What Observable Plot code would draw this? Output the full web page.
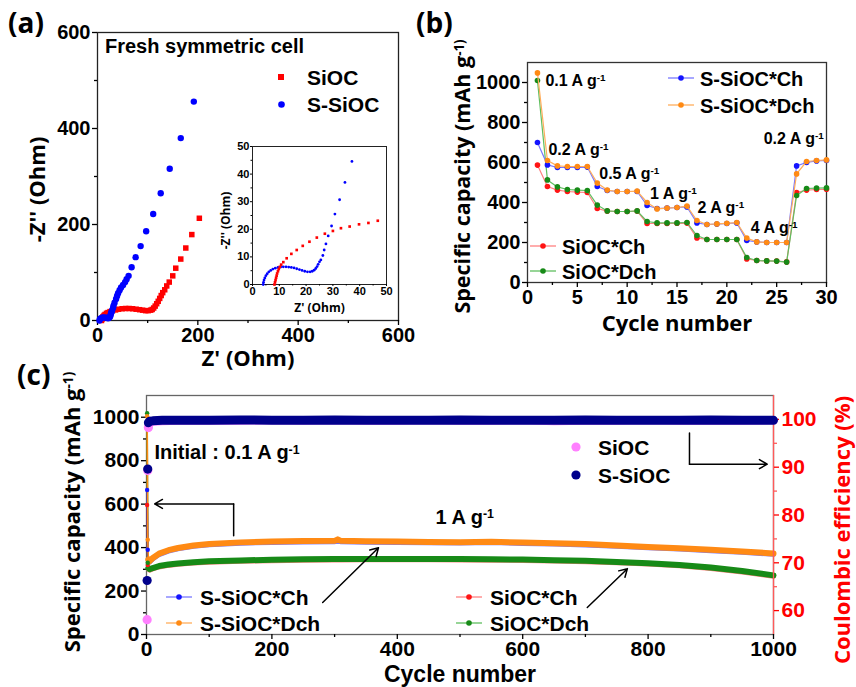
<!DOCTYPE html>
<html><head><meta charset="utf-8">
<script src="https://cdn.jsdelivr.net/npm/d3@7"></script>
<script src="https://cdn.jsdelivr.net/npm/@observablehq/plot@0.6"></script>
<style>
body{margin:0;background:#fff}
#wrap{position:relative;width:856px;height:687px;overflow:hidden;background:#fff}
#wrap svg.plotlayer{position:absolute;left:0;top:0}
.lbl{position:absolute;white-space:nowrap;line-height:1;transform:translateY(-50%)}
</style></head>
<body><div id="wrap"></div>
<script>
// ---------------- DATA ----------------
// (a) Nyquist plots, fresh symmetric cell [Z', -Z'']
const nyqSiOC = [[8,0],[9,3],[10,6],[11,8],[13,10.5],[15,12.5],[18,15],[21,16.5],[25,18.5],[30,20.5],[36,22],[42,23.5],[49,24.5],[56,25],[63,25],[70,24.5],[77,23.5],[84,22.5],[90,21.5],[96,20.5],[101,20.5],[106,21.5],[109,23],[112,26],[115,30],[118,35],[121,40],[124,46],[127,52],[130,58],[134,64],[138,72],[143,80],[150,93],[156,109],[166,128],[176,151],[188,179],[203,213]];
const nyqSSiOC = [[4,0],[5,3],[7,5],[10,6.2],[14,6.3],[18,5.6],[21,4.6],[23,5.5],[25,8],[26,11],[27,15],[28,18],[29,21],[31,26],[32,31],[34,37],[37,45],[39,51],[41,57],[44,63],[47,69],[51,74],[55,80],[58,86],[62,93],[68,111],[76,132],[86,155],[97,186],[111,222],[126,265],[144,316],[166,380],[192,456]];
// (a) inset (zoom on 0-50 Ohm)
const insetSiOC = [[8.2,0],[8.4,0.8],[8.6,1.6],[8.8,2.4],[9,3.2],[9.2,4],[9.5,4.8],[9.8,5.6],[10.2,6.4],[10.7,7.2],[11.5,8.1],[12.75,9.5],[14.5,11.1],[16.5,12.5],[18.75,14],[21.25,15.5],[24,17],[27,18.4],[30,19.4],[33,20.4],[36.25,21],[39.75,21.8],[43.25,22.3],[46.75,23.1]];
const insetSSiOC = [[4,0],[4.1,0.8],[4.3,1.6],[4.6,2.4],[5,3.2],[5.5,3.9],[6.1,4.6],[6.8,5.1],[7.6,5.6],[8.5,5.9],[9.5,6.2],[10.5,6.3],[11.5,6.4],[12.5,6.4],[13.5,6.3],[14.5,6.2],[15.5,6],[16.5,5.7],[17.5,5.4],[18.5,5.1],[19.5,4.8],[20.5,4.6],[21.5,4.6],[22.3,4.8],[23,5.2],[23.6,5.8],[24.1,6.5],[24.5,7.3],[25,8.2],[25.5,8.9],[26.25,10.5],[26.75,12.5],[27.4,14.7],[28.25,17.6],[29.5,21.2],[30.75,25.5],[32.5,30.7],[34.5,37],[37.1,44.6]];

// (b) rate capability
const cyclesB = [1,2,3,4,5,6,7,8,9,10,11,12,13,14,15,16,17,18,19,20,21,22,23,24,25,26,27,28,29,30];
const bSSiOCCh  = [700,588,575,575,575,577,480,460,455,455,455,385,370,372,375,378,298,290,292,295,298,210,203,200,200,200,583,600,608,610];
const bSSiOCDch = [1048,610,583,580,580,580,497,462,455,455,457,400,368,372,375,382,310,290,293,296,300,222,203,200,200,200,543,605,610,613];
const bSiOCCh   = [587,480,462,455,452,450,370,357,355,355,357,295,295,295,296,297,223,215,215,215,215,118,110,108,107,103,450,462,465,466];
const bSiOCDch  = [1010,513,478,465,462,460,387,358,355,355,358,305,298,298,298,300,235,215,215,215,215,125,110,108,107,102,435,470,472,473];
const rateLabels = ["0.1 A g^-1","0.2 A g^-1","0.5 A g^-1","1 A g^-1","2 A g^-1","4 A g^-1","0.2 A g^-1"];
const rateLabelCycle = [1.8,2.1,7.2,12.3,17.05,22.4,23.7];
const rateLabelCap = [1010,665,545,445,375,275,720];

// (c) long-term cycling at 1 A g-1
const cyclesC = [1,2,3,5,10,20,35,50,75,100,150,200,250,300,305,310,350,400,450,500,550,600,650,700,750,800,850,900,950,1000];
const cSSiOCDch = [1005,436,345,338,352,372,388,398,410,417,424,428,430,431,438,431,429,428,426,425,427,423,420,416,410,403,397,390,382,373];
const cSSiOCCh  = [665,390,340,334,348,368,384,394,406,413,420,424,426,427,433,427,425,424,422,421,423,419,416,412,406,399,393,386,378,369];
const cSiOCDch  = [1018,330,305,300,306,315,322,327,333,337,341,344,346,347,347,347,348,348,348,347,346,345,342,339,334,328,320,308,292,272];
const cSiOCCh   = [596,320,300,296,302,311,318,323,329,333,337,340,342,343,343,343,344,344,344,343,342,341,338,335,330,324,316,304,288,268];
const ceCycles = [1,2,3,5,10,25,50,100,150,200,250,300,350,400,450,500,550,600,650,700,750,800,850,900,950,1000];
const ceSSiOC = [66.3,89.6,99.3,99.6,99.7,99.8,99.8,99.8,99.9,99.8,99.8,99.9,99.8,99.8,99.8,99.9,99.8,99.8,99.8,99.9,99.8,99.8,99.8,99.9,99.8,99.8];
const ceSiOC  = [58.1,89.3,98.3,99.2,99.5,99.6,99.7,99.7,99.7,99.8,99.7,99.8,99.7,99.7,99.8,99.7,99.7,99.8,99.6,99.7,99.7,99.8,99.7,99.7,99.7,99.8];
const cNotes = ["Initial : 0.1 A g^-1","1 A g^-1"];
const cNoteCycle = [12.8,461];
const cNoteCap = [835,537];
// arrows (cycle, capacity)
const arrowStraight = [{x1:281,y1:147,x2:370,y2:399},{x1:703,y1:124,x2:767,y2:303}];
const elbowLeft = [[139,454],[139,601],[13,601]];
const elbowRight = [[866,927],[866,784],[990,784]];

// tick values
const aTicks=[0,200,400,600], aMinor=[100,300,500];
const inTicks=[0,10,20,30,40,50], inMinor=[5,15,25,35,45];
const bxTicks=[0,5,10,15,20,25,30], bxMinor=[2.5,7.5,12.5,17.5,22.5,27.5];
const capTicks=[0,200,400,600,800,1000], capMinor=[100,300,500,700,900];
const cxTicks=[0,200,400,600,800,1000], cxMinor=[100,300,500,700,900];
const ceTicks=[60,70,80,90,100], ceMinor=[65,75,85,95];

// ---------------- HELPERS ----------------
const W=856, H=687;
const FONT='"Liberation Sans", Arial, sans-serif';
const TFONT='"Open Sans", "Liberation Sans", sans-serif';
const wrap=document.getElementById("wrap");
const pts = arr => arr.map(([x,y])=>({x,y}));
const series = (xs, ys) => xs.map((x,i)=>({x, y: ys[i]}));
const fmt = d => String(d);
function sup(svg){
  d3.select(svg).selectAll("text").each(function(){
    const t=this.textContent;
    if(!t.includes("^")) return;
    const [a,b]=t.split("^");
    const s=d3.select(this); s.text(a);
    s.append("tspan").attr("dy","-0.48em").attr("font-size","0.62em").text(b);
  });
}
function add(svg){ sup(svg); svg.classList.add("plotlayer"); wrap.appendChild(svg); }
const baseStyle={background:"transparent",fontFamily:FONT,fontSize:"20px",fontWeight:"bold",color:"#000",overflow:"visible"};
function axes(xT,xM,yT,yM,o={}){
  const sw=o.sw??1.3, ts=o.ts??5, tm=o.tm??3, tp=o.tp??3;
  return [
    Plot.axisX({ticks:xT,tickSize:ts,tickPadding:tp,tickFormat:fmt,label:null,strokeWidth:sw}),
    Plot.axisX({ticks:xM,tickSize:tm,tickFormat:()=>"",label:null,strokeWidth:sw}),
    Plot.axisY({ticks:yT,tickSize:ts,tickPadding:tp,tickFormat:fmt,label:null,strokeWidth:sw}),
    Plot.axisY({ticks:yM,tickSize:tm,tickFormat:()=>"",label:null,strokeWidth:sw})
  ];
}
function htmlText(x,y,txt,size,opts={}){
  const d=document.createElement("div"); d.className="lbl";
  d.style.left=x+"px"; d.style.top=y+"px";
  d.style.font=`${opts.weight||"bold"} ${size}px ${opts.family||FONT}`;
  d.style.color=opts.color||"#000";
  d.innerHTML=txt; wrap.appendChild(d);
}
function swatch(cx,cy,html,w,h){
  const d=document.createElement("div");
  d.style.cssText=`position:absolute;left:${cx-w/2}px;top:${cy-h/2}px;width:${w}px;height:${h}px`;
  d.innerHTML=`<svg width="${w}" height="${h}" style="display:block">${html}</svg>`;
  wrap.appendChild(d);
}
function lineDot(cx,cy,stroke,fill){
  swatch(cx,cy,`<line x1="0" y1="5" x2="26" y2="5" stroke="${stroke}" stroke-width="1.3"/><circle cx="13" cy="5" r="2.8" fill="${fill}"/>`,26,10);
}

// colours
const C={blue:"#1414ff",blueL:"#7878ff",orange:"#ff8a14",orangeL:"#ffad5c",red:"#ff1414",redL:"#ff8080",green:"#178a17",greenL:"#5fbf5f",navy:"#00008b",pink:"#ff80ff"};

// ---------------- PANEL (a) ----------------
add(Plot.plot({
  width:W,height:H,marginLeft:97,marginRight:458,marginTop:32,marginBottom:367,
  x:{domain:[0,600]},y:{domain:[0,600]},style:baseStyle,
  marks:[
    Plot.frame({stroke:"#222",strokeWidth:1.3}),
    ...axes(aTicks,aMinor,aTicks,aMinor,{tp:2}),
    Plot.dot(pts(nyqSiOC),{x:"x",y:"y",symbol:"square",r:3.1,fill:"#ff0000"}),
    Plot.dot(pts(nyqSSiOC),{x:"x",y:"y",r:3.2,fill:"#0000ff"}),
    Plot.text(["Z' (Ohm)"],{frameAnchor:"bottom",textAnchor:"middle",lineAnchor:"middle",dy:38,fontFamily:TFONT,fontSize:22,fontWeight:"bold"}),
    Plot.text(["-Z'' (Ohm)"],{frameAnchor:"left",textAnchor:"middle",lineAnchor:"middle",rotate:-90,dx:-60,dy:13,fontFamily:TFONT,fontSize:22,fontWeight:"bold"})
  ]
}));
// inset
add(Plot.plot({
  width:W,height:H,marginLeft:252,marginRight:470,marginTop:146,marginBottom:403,
  x:{domain:[0,50]},y:{domain:[0,50]},style:{...baseStyle,fontSize:"11px"},
  marks:[
    Plot.frame({stroke:"#222",strokeWidth:1}),
    ...axes(inTicks,inMinor,inTicks,inMinor,{sw:1,ts:2,tm:1.5,tp:1}),
    Plot.dot(pts(insetSSiOC),{x:"x",y:"y",r:1.4,fill:"#0000ff"}),
    Plot.dot(pts(insetSiOC),{x:"x",y:"y",symbol:"square",r:1.5,fill:"#ff0000"}),
    Plot.text(["Z' (Ohm)"],{frameAnchor:"bottom",textAnchor:"middle",lineAnchor:"middle",dy:24,fontFamily:TFONT,fontSize:12,fontWeight:"bold"}),
    Plot.text(["-Z'' (Ohm)"],{frameAnchor:"left",textAnchor:"middle",lineAnchor:"middle",rotate:-90,dx:-26,dy:5,fontFamily:TFONT,fontSize:12,fontWeight:"bold"})
  ]
}));

// ---------------- PANEL (b) ----------------
const bSeries=[
  {d:series(cyclesB,bSiOCCh),c:C.red,l:C.redL},
  {d:series(cyclesB,bSiOCDch),c:C.green,l:C.greenL},
  {d:series(cyclesB,bSSiOCCh),c:C.blue,l:C.blueL},
  {d:series(cyclesB,bSSiOCDch),c:C.orange,l:C.orangeL}
];
add(Plot.plot({
  width:W,height:H,marginLeft:527,marginRight:30,marginTop:62,marginBottom:405,
  x:{domain:[0,30]},y:{domain:[0,1100]},style:baseStyle,
  marks:[
    Plot.frame({stroke:"#333",strokeWidth:1.3}),
    ...axes(bxTicks,bxMinor,capTicks,capMinor,{tp:2}),
    ...bSeries.flatMap(s=>[
      Plot.line(s.d,{x:"x",y:"y",stroke:s.l,strokeWidth:1.2}),
      Plot.dot(s.d,{x:"x",y:"y",r:2.8,fill:s.c})
    ]),
    Plot.text(rateLabels,{x:(d,i)=>rateLabelCycle[i],y:(d,i)=>rateLabelCap[i],textAnchor:"start",lineAnchor:"middle",fontSize:16,fontWeight:"bold"}),
    Plot.text(["Cycle number"],{frameAnchor:"bottom",textAnchor:"middle",lineAnchor:"middle",dy:41,fontFamily:TFONT,fontSize:22,fontWeight:"bold"}),
    Plot.text(["Specific capacity (mAh g^-1)"],{frameAnchor:"left",textAnchor:"middle",lineAnchor:"middle",rotate:-90,dx:-64,dy:4,fontFamily:TFONT,fontSize:21.5,fontWeight:"bold"})
  ]
}));

// ---------------- PANEL (c) ----------------
const cS=[
  {d:series(cyclesC,cSiOCCh),c:C.red,l:C.redL,w:5},
  {d:series(cyclesC,cSiOCDch),c:C.green,l:C.green,w:6},
  {d:series(cyclesC,cSSiOCCh),c:C.blue,l:C.blueL,w:5},
  {d:series(cyclesC,cSSiOCDch),c:C.orange,l:C.orange,w:6}
];
add(Plot.plot({
  width:W,height:H,marginLeft:146,marginRight:83,marginTop:395,marginBottom:53,
  x:{domain:[0,1000]},y:{domain:[0,1100]},style:{...baseStyle,fontSize:"21px"},
  marks:[
    Plot.frame({stroke:"#666",strokeWidth:1.3}),
    ...axes(cxTicks,cxMinor,capTicks,capMinor,{tp:2}),
    ...cS.map(s=>Plot.line(s.d.filter(p=>p.x<=3),{x:"x",y:"y",stroke:s.c,strokeWidth:1.6})),
    ...cS.map(s=>Plot.line(s.d.filter(p=>p.x>=3),{x:"x",y:"y",stroke:s.l,strokeWidth:s.w,strokeLinejoin:"round"})),
    ...cS.map(s=>Plot.dot(s.d.filter(p=>p.x<=2),{x:"x",y:"y",r:2.2,fill:s.c})),
    Plot.line(pts(elbowLeft).slice(0,2),{x:"x",y:"y",stroke:"#000",strokeWidth:1.5}),
    Plot.line(pts(elbowRight).slice(0,2),{x:"x",y:"y",stroke:"#000",strokeWidth:1.5}),
    Plot.arrow([{x1:elbowLeft[1][0],y1:elbowLeft[1][1],x2:elbowLeft[2][0],y2:elbowLeft[2][1]},
                {x1:elbowRight[1][0],y1:elbowRight[1][1],x2:elbowRight[2][0],y2:elbowRight[2][1]},
                ...arrowStraight],{x1:"x1",y1:"y1",x2:"x2",y2:"y2",stroke:"#000",strokeWidth:1.5,headLength:9}),
    Plot.text(cNotes,{x:(d,i)=>cNoteCycle[i],y:(d,i)=>cNoteCap[i],textAnchor:"start",lineAnchor:"middle",fontSize:20,fontWeight:"bold"}),
    Plot.text(["Cycle number"],{frameAnchor:"bottom",textAnchor:"middle",lineAnchor:"middle",dy:40.5,fontFamily:FONT,fontSize:23,fontWeight:"bold"}),
    Plot.text(["Specific capacity (mAh g^-1)"],{frameAnchor:"left",textAnchor:"middle",lineAnchor:"middle",rotate:-90,dx:-74,dy:-3,fontFamily:TFONT,fontSize:22,fontWeight:"bold"})
  ]
}));
// (c) coulombic efficiency overlay (right axis)
const ceS=series(ceCycles,ceSSiOC), ceP=series(ceCycles,ceSiOC);
add(Plot.plot({
  width:W,height:H,marginLeft:146,marginRight:83,marginTop:395,marginBottom:53,
  x:{domain:[0,1000],axis:null},y:{domain:[55,105]},style:{...baseStyle,fontSize:"21px"},
  marks:[
    Plot.ruleX([1000],{stroke:"#ff5a5a",strokeWidth:1.3}),
    Plot.axisY({anchor:"right",ticks:ceTicks,tickSize:5,tickPadding:3,tickFormat:fmt,label:null,color:"#ff0000",strokeWidth:1.3}),
    Plot.axisY({anchor:"right",ticks:ceMinor,tickSize:3,tickFormat:()=>"",label:null,color:"#ff5a5a",strokeWidth:1.3}),
    Plot.line(ceP.filter(p=>p.x>=3),{x:"x",y:"y",stroke:C.pink,strokeWidth:8}),
    Plot.dot(ceP.filter(p=>p.x<=3),{x:"x",y:"y",r:4.6,fill:C.pink}),
    Plot.line(ceS.filter(p=>p.x>=3),{x:"x",y:"y",stroke:C.navy,strokeWidth:9}),
    Plot.dot(ceS.filter(p=>p.x<=2),{x:"x",y:"y",r:4.6,fill:C.navy}),
    Plot.text(["Coulombic efficiency (%)"],{frameAnchor:"right",textAnchor:"middle",lineAnchor:"middle",rotate:-90,dx:69,dy:15,fill:"#ff0000",fontFamily:TFONT,fontSize:22,fontWeight:"bold"})
  ]
}));

// ---------------- LEGENDS & PANEL LABELS ----------------
htmlText(8,22,"(a)",28,{family:TFONT});
htmlText(416,22,"(b)",28,{family:TFONT});
htmlText(17,374,"(c)",28,{family:TFONT});
// (a)
htmlText(105,46,"Fresh symmetric cell",20);
swatch(281,77,`<rect x="0" y="0" width="6" height="6" fill="#ff0000"/>`,6,6);
htmlText(307,78,"SiOC",21);
swatch(281,104,`<circle cx="3.5" cy="3.5" r="3.3" fill="#0000ff"/>`,7,7);
htmlText(307,105,"S-SiOC",21);
// (b)
lineDot(681,78,C.blueL,C.blue); htmlText(700,79,"S-SiOC*Ch",20);
lineDot(681,105,C.orangeL,C.orange); htmlText(700,106,"S-SiOC*Dch",20);
lineDot(543,246,C.redL,C.red); htmlText(562,247,"SiOC*Ch",20);
lineDot(543,271,C.greenL,C.green); htmlText(562,272,"SiOC*Dch",20);
// (c)
lineDot(179,597,C.blueL,C.blue); htmlText(200,598,"S-SiOC*Ch",21);
lineDot(179,623,C.orangeL,C.orange); htmlText(200,624,"S-SiOC*Dch",21);
lineDot(469,597,C.redL,C.red); htmlText(490,598,"SiOC*Ch",21);
lineDot(469,623,C.greenL,C.green); htmlText(490,624,"SiOC*Dch",21);
swatch(576,447,`<circle cx="5" cy="5" r="4.6" fill="${C.pink}"/>`,10,10); htmlText(598,448,"SiOC",21);
swatch(576,475,`<circle cx="5" cy="5" r="4.6" fill="${C.navy}"/>`,10,10); htmlText(598,476,"S-SiOC",21);
</script>
</body></html>
